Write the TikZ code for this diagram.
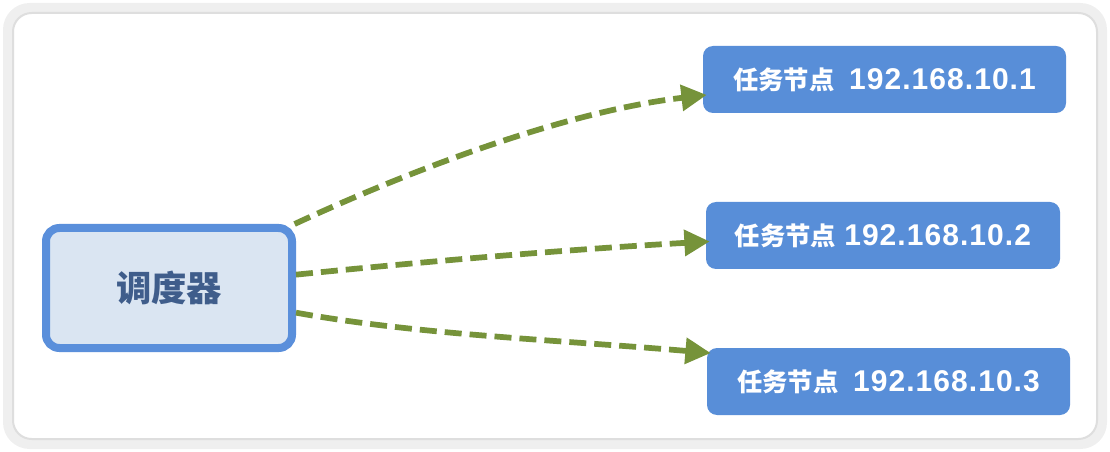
\documentclass[tikz,border=0pt]{standalone}
\usepackage{fontspec}
\newfontfamily\cjk{Noto Sans CJK SC}
\newfontfamily\latin[LetterSpace=3.5]{Liberation Sans}
\usetikzlibrary{arrows.meta}
\definecolor{cardshadow}{HTML}{EFEFEF}
\definecolor{cardline}{HTML}{DEDEDE}
\definecolor{nodeblue}{HTML}{588ED8}
\definecolor{schedline}{HTML}{5A8FDB}
\definecolor{schedfill}{HTML}{DAE5F2}
\definecolor{schedtext}{HTML}{3F5D8B}
\definecolor{arrowgreen}{HTML}{76933A}
\newcommand{\tasklabel}[2]{{\cjk\fontsize{19}{22}\selectfont 任务节点}\hspace{#1}{\latin\fontsize{22.5}{26}\selectfont #2}}
\tikzset{
  taskbox/.style={fill=nodeblue, rounded corners=7.5pt, inner sep=0pt,
    minimum height=50.25pt, text=white, font=\bfseries},
  schedbox/.style={draw=schedline, fill=schedfill, line width=6pt, rounded corners=10pt,
    inner sep=0pt, minimum width=184.5pt, minimum height=90pt, text=schedtext,
    font=\cjk\bfseries\fontsize{26.5}{30}\selectfont},
  flow/.style={draw=arrowgreen, line width=4.3pt, dash pattern=on 12.75pt off 6pt,
    -{Triangle[length=19pt,width=19pt]}, shorten >=-3pt}
}
\begin{document}
\begin{tikzpicture}[x=0.75pt,y=-0.75pt]
\useasboundingbox (0,0) rectangle (1110,452);
\fill[cardshadow, rounded corners=20pt] (3,3) rectangle (1107,449);
\draw[cardline, fill=white, line width=1.5pt, rounded corners=14pt] (13,13) rectangle (1097,439);
\node[schedbox] (s) at (169,288) {调度器};
\node[taskbox, minimum width=272.25pt] (t1) at (884.5,79.5) {\tasklabel{11pt}{192.168.10.1}};
\node[taskbox, minimum width=265.5pt] (t2) at (883,235.5) {\tasklabel{6pt}{192.168.10.2}};
\node[taskbox, minimum width=272.25pt] (t3) at (888.5,381.5) {\tasklabel{11pt}{192.168.10.3}};
\draw[flow] (s.27) .. controls (400,175) and (560,112) .. (t1.185);
\draw[flow] (s.6) .. controls (420,262) and (560,250) .. (t2.182);
\draw[flow] (s.-11) .. controls (420,335) and (560,340) .. (t3.171);
\end{tikzpicture}
\end{document}
